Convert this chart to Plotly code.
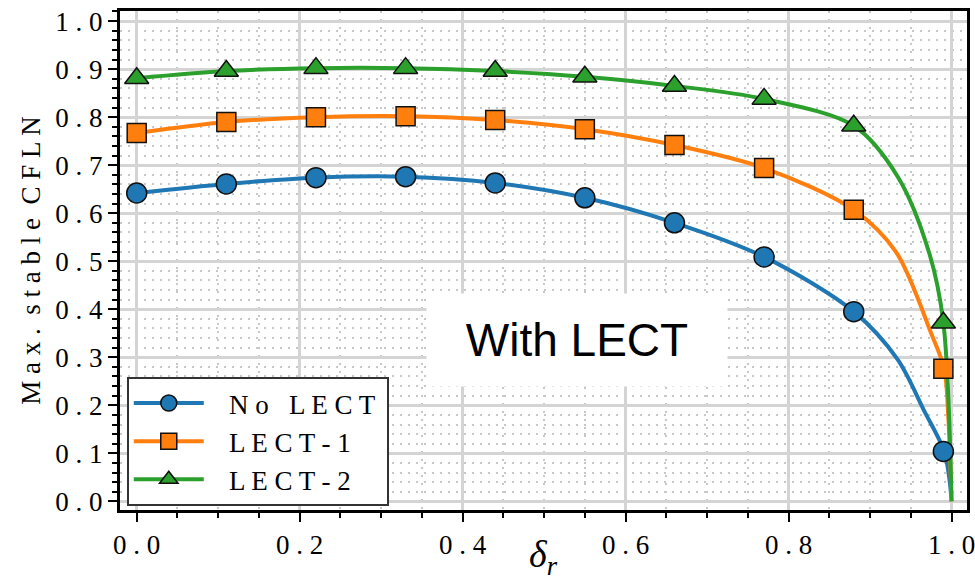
import plotly.graph_objects as go

# ---- data ----
delta_pts = [0.0, 0.11, 0.22, 0.33, 0.44, 0.55, 0.66, 0.77, 0.88, 0.99]
no_lect = [0.642, 0.661, 0.674, 0.676, 0.663, 0.632, 0.580, 0.509, 0.395, 0.104]
lect1 = [0.767, 0.790, 0.800, 0.802, 0.794, 0.775, 0.742, 0.694, 0.607, 0.276]
lect2 = [0.881, 0.896, 0.902, 0.902, 0.896, 0.884, 0.865, 0.838, 0.782, 0.372]

# smooth curves (markers plus tail points)
no_lect_cx = [0.0, 0.11, 0.22, 0.33, 0.44, 0.55, 0.66, 0.77, 0.88, 0.934, 0.966, 0.991, 0.998, 0.9995]
no_lect_cy = [0.642, 0.661, 0.674, 0.676, 0.663, 0.632, 0.580, 0.509, 0.395, 0.295, 0.190, 0.104, 0.039, 0.01]
lect1_cx = [0.0, 0.11, 0.22, 0.33, 0.44, 0.55, 0.66, 0.77, 0.88, 0.932, 0.975, 0.991, 0.996, 1.0]
lect1_cy = [0.767, 0.790, 0.800, 0.802, 0.794, 0.775, 0.742, 0.694, 0.607, 0.519, 0.350, 0.276, 0.177, 0.0]
lect2_cx = [0.0, 0.11, 0.22, 0.33, 0.44, 0.55, 0.66, 0.77, 0.88, 0.934, 0.973, 0.990, 1.0]
lect2_cy = [0.881, 0.896, 0.902, 0.902, 0.896, 0.884, 0.865, 0.838, 0.782, 0.676, 0.515, 0.372, 0.0]

series_names = ["No LECT", "LECT-1", "LECT-2"]
x_tick_vals = [0.0, 0.2, 0.4, 0.6, 0.8, 1.0]
x_tick_labels = ["0.0", "0.2", "0.4", "0.6", "0.8", "1.0"]
y_tick_vals = [0.0, 0.1, 0.2, 0.3, 0.4, 0.5, 0.6, 0.7, 0.8, 0.9, 1.0]
y_tick_labels = ["0.0", "0.1", "0.2", "0.3", "0.4", "0.5", "0.6", "0.7", "0.8", "0.9", "1.0"]
y_title = "Max. stable CFLN"
annotation_text = "With LECT"

colors = ["#1f77b4", "#ff7f0e", "#2ca02c"]
symbols = ["circle", "square", "triangle-up"]
msizes = [20, 19, 21]

SP = " "


def spaced(s, word_gap=2):
    words = s.split(" ")
    return (SP * word_gap).join(SP.join(list(w)) for w in words)


SERIF = "'Liberation Serif', 'Times New Roman', Times, serif"

fig = go.Figure()
curves = [(no_lect_cx, no_lect_cy), (lect1_cx, lect1_cy), (lect2_cx, lect2_cy)]
marks = [no_lect, lect1, lect2]
for i in range(3):
    cx, cy = curves[i]
    fig.add_trace(go.Scatter(
        x=cx, y=cy, mode="lines",
        line=dict(color=colors[i], width=4, shape="spline", smoothing=0.9),
        showlegend=False, hoverinfo="skip"))
for i in range(3):
    fig.add_trace(go.Scatter(
        x=delta_pts, y=marks[i], mode="markers", showlegend=False,
        marker=dict(symbol=symbols[i], size=msizes[i], color=colors[i],
                    line=dict(color="#111111", width=1.5))))
for i in range(3):
    fig.add_trace(go.Scatter(
        x=[None], y=[None], mode="lines+markers",
        name=SP * 3 + spaced(series_names[i], word_gap=3) + SP,
        line=dict(color=colors[i], width=4),
        marker=dict(symbol=symbols[i], size=msizes[i], color=colors[i],
                    line=dict(color="#111111", width=1.5))))

fig.update_layout(
    width=975, height=581,
    margin=dict(l=120, r=8, t=11, b=71),
    paper_bgcolor="white", plot_bgcolor="white",
    font=dict(family=SERIF, color="black"),
    showlegend=True,
    legend=dict(x=0.008, y=0.008, xanchor="left", yanchor="bottom",
                bgcolor="white", bordercolor="#333333", borderwidth=2,
                font=dict(family=SERIF, size=27, color="black"),
                itemwidth=70, tracegroupgap=0),
)

fig.update_xaxes(
    range=[-0.0205, 1.019], automargin=False, ticklabeloverflow="allow",
    showline=True, linecolor="black", linewidth=3, mirror=True,
    ticks="outside", ticklen=9, tickwidth=2, tickcolor="black",
    tickvals=x_tick_vals, ticktext=[spaced(t) for t in x_tick_labels],
    tickfont=dict(family=SERIF, size=27, color="black"),
    showgrid=True, gridcolor="#d4d4d4", gridwidth=2.5, zeroline=False,
    minor=dict(dtick=0.05, tick0=0, ticks="outside", ticklen=5, tickwidth=2, tickcolor="black",
               showgrid=True, gridcolor="#c8c8c8", gridwidth=2, griddash="2px,6px"),
)
fig.update_yaxes(
    range=[-0.018, 1.021], automargin=False, ticklabeloverflow="allow",
    showline=True, linecolor="black", linewidth=3, mirror=True,
    ticks="outside", ticklen=9, tickwidth=2, tickcolor="black",
    tickvals=y_tick_vals, ticktext=[spaced(t) for t in y_tick_labels],
    tickfont=dict(family=SERIF, size=27, color="black"),
    showgrid=True, gridcolor="#d4d4d4", gridwidth=2.5, zeroline=False,
    minor=dict(dtick=0.02, tick0=0, ticks="outside", ticklen=5, tickwidth=2, tickcolor="black",
               showgrid=True, gridcolor="#c8c8c8", gridwidth=2, griddash="2px,6px"),
)

# axis titles
fig.add_annotation(
    x=0.5, y=-0.094, xref="paper", yref="paper", xanchor="center", yanchor="middle",
    text="<i>δ</i><sub><i>r</i></sub>", showarrow=False,
    font=dict(family=SERIF, size=38, color="black"))
fig.add_annotation(
    x=-0.106, y=0.5, xref="paper", yref="paper", xanchor="center", yanchor="middle",
    text=spaced(y_title), textangle=-90, showarrow=False,
    font=dict(family=SERIF, size=27, color="black"))

fig.add_annotation(
    x=0.54, y=0.337, xref="x", yref="y", text=annotation_text, showarrow=False,
    font=dict(family="'Liberation Sans', Arial, sans-serif", size=46, color="black"),
    bgcolor="white", width=300, height=92, borderpad=0,
)

fig.write_html("out.html", config={"displayModeBar": False},
               post_script="document.body.style.margin='0px';")
